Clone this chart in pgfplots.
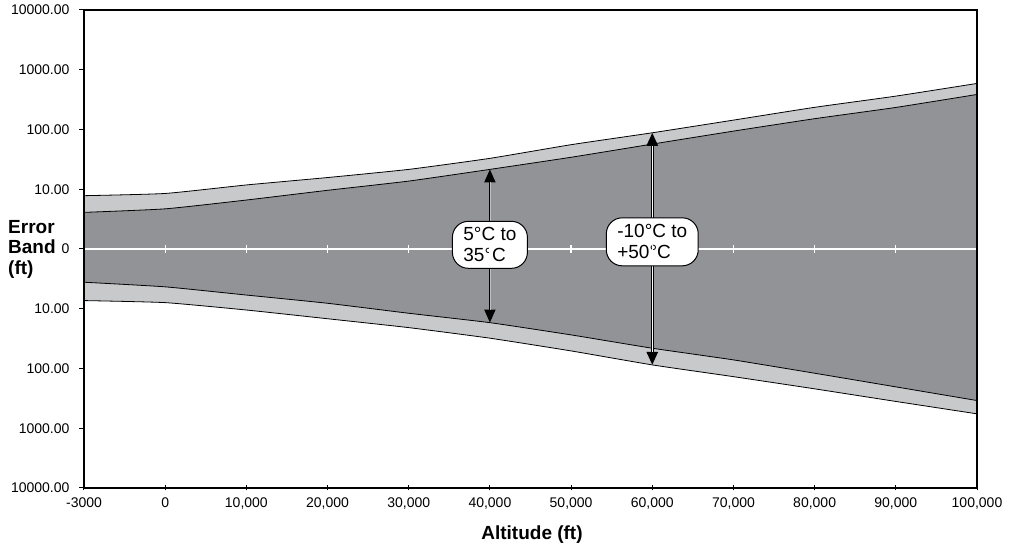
\documentclass[border=0pt]{standalone}
\usepackage{pgfplots}
\pgfplotsset{compat=1.18}
\usepgfplotslibrary{fillbetween}
\usetikzlibrary{arrows.meta}
\usepackage{pgfplotstable}
\usepackage{fontspec}
\setmainfont{Liberation Sans}
\definecolor{lightband}{RGB}{200,201,203}
\definecolor{darkband}{RGB}{146,147,151}

% error band (ft): uo/ui = upper outer/inner, li/lo = lower inner/outer
\pgfplotstableread{
x uo ui li lo
0 7.8 4.1 3.6 7.3
1 8.5 4.7 4.3 7.9
2 11.8 6.6 5.9 10.5
3 15.7 9.6 8.1 14.7
4 21.5 13.7 11.9 20.7
5 32.9 21.5 17.1 31.1
6 55.7 34.3 27.4 50.8
7 88.1 57.0 45.8 87.1
8 143.6 94.0 71.8 137
9 235 151.7 120 219
10 362 234 203 356
11 590 386 344 574
}\banddata

\begin{document}
\begin{tikzpicture}
\begin{axis}[
  scale only axis, width=893pt, height=478pt,
  xmin=0, xmax=11, ymin=-4, ymax=4,
  axis on top,
  axis line style={line width=1.6pt},
  xtick={0,...,11},
  xticklabels={-3000,0,{10,000},{20,000},{30,000},{40,000},{50,000},{60,000},{70,000},{80,000},{90,000},{100,000}},
  ytick={-4,...,4},
  yticklabels={10000.00,1000.00,100.00,10.00,0,10.00,100.00,1000.00,10000.00},
  xtick pos=bottom, ytick pos=left,
  tick align=outside,
  major tick length=5pt,
  tick style={black, line width=1pt},
  x tick style={yshift=2.5pt},
  ticklabel style={font=\fontsize{14}{16}\selectfont},
  yticklabel style={xshift=-6pt},
  xticklabel style={yshift=-1.5pt},
  /pgf/number format/assume math mode=true,
]
\addplot[name path=uo, black, line width=0.8pt, smooth, tension=0.3] table[x=x, y expr={log10(\thisrow{uo})}] {\banddata};
\addplot[name path=ui, black, line width=0.8pt, smooth, tension=0.3] table[x=x, y expr={log10(\thisrow{ui})}] {\banddata};
\addplot[name path=li, black, line width=0.8pt, smooth, tension=0.3] table[x=x, y expr={-log10(\thisrow{li})}] {\banddata};
\addplot[name path=lo, black, line width=0.8pt, smooth, tension=0.3] table[x=x, y expr={-log10(\thisrow{lo})}] {\banddata};
\addplot[lightband] fill between[of=uo and lo];
\addplot[darkband] fill between[of=ui and li];

\addplot[white, line width=1.2pt] coordinates {(0,0) (11,0)};
\addplot[white, only marks, mark=|, mark size=3.8pt, mark options={line width=1.3pt}]
  coordinates {(1,0) (2,0) (3,0) (4,0) (5,0) (6,0) (7,0) (8,0) (9,0) (10,0) (11,0)};

\draw[black, line width=1.8pt, {Triangle[width=11pt,length=13pt]}-{Triangle[width=11pt,length=13pt]}]
  (axis cs:5,1.333) -- (axis cs:5,-1.232);
\draw[black!25, line width=0.7pt, shorten <=13pt, shorten >=13pt] (axis cs:5,1.333) -- (axis cs:5,-1.232);
\draw[black, line width=2.6pt, {Triangle[width=11pt,length=13pt]}-{Triangle[width=11pt,length=13pt]}]
  (axis cs:7,1.945) -- (axis cs:7,-1.940);
\draw[white, line width=1.3pt, shorten <=13pt, shorten >=13pt] (axis cs:7,1.945) -- (axis cs:7,-1.940);

\node[draw=black, fill=white, line width=1pt, rounded corners=16pt, align=left,
  font=\fontsize{19}{21}\selectfont, inner xsep=11pt, minimum height=47pt]
  at (axis cs:5,0.07) {5°C to\\35°C};
\node[draw=black, fill=white, line width=1pt, rounded corners=16pt, align=left,
  font=\fontsize{19}{21}\selectfont, inner xsep=11pt, minimum height=48pt]
  at (axis cs:7,0.12) {-10°C to\\+50°C};
\end{axis}
\node[anchor=west, align=left, font=\fontsize{19}{20.5}\selectfont\bfseries, inner sep=0pt]
  at ([xshift=-76pt]current axis.west) {Error\\Band\\(ft)};
\node[anchor=base, font=\fontsize{19}{20}\selectfont\bfseries]
  at ([xshift=1.5pt,yshift=-52pt]current axis.south) {Altitude (ft)};
\pgfresetboundingbox
\path[use as bounding box] ([xshift=-84pt,yshift=-61.7pt]current axis.south west)
  rectangle ([xshift=38pt,yshift=10pt]current axis.north east);
\end{tikzpicture}
\end{document}
